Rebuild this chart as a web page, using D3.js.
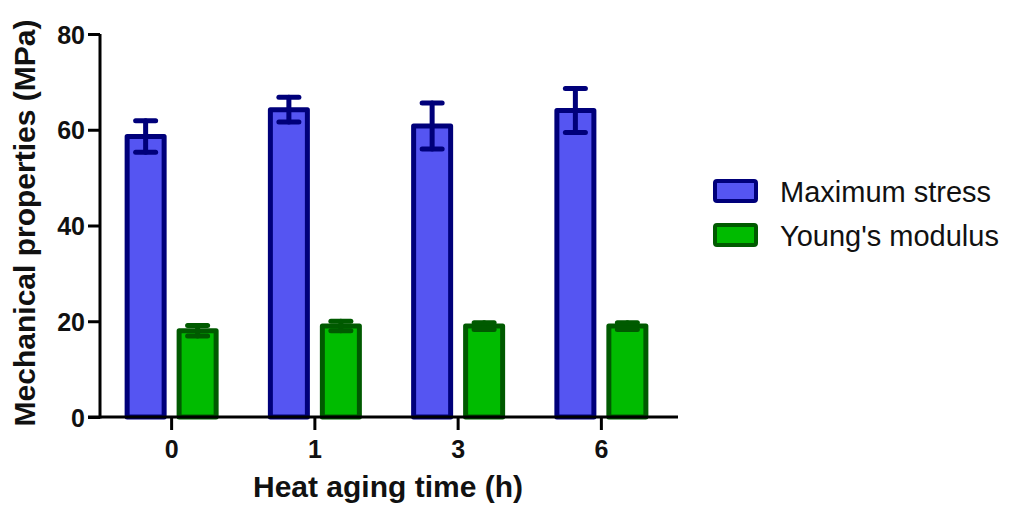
<!DOCTYPE html>
<html>
<head>
<meta charset="utf-8">
<script src="https://cdn.jsdelivr.net/npm/d3@7"></script>
<style>
  body { margin: 0; background: #fff; }
  svg { display: block; font-family: "Liberation Sans", Arial, sans-serif; }
</style>
</head>
<body>
<svg id="chart"></svg>
<script>
// data
const hours = ["0", "1", "3", "6"];
const seriesNames = ["Maximum stress", "Young's modulus"];
const stressMean = [58.6, 64.2, 60.8, 64.0];
const stressSD = [3.3, 2.6, 4.8, 4.6];
const modulusMean = [18.0, 19.0, 19.0, 19.0];
const modulusSD = [1.1, 1.0, 0.7, 0.7];
const yTicks = [0, 20, 40, 60, 80];

const fills = ["#5555f2", "#00bb00"];
const strokes = ["#00007a", "#005a00"];

const width = 1017, height = 506;
const margin = { top: 34, right: 344, bottom: 89, left: 100 };
const innerW = width - margin.left - margin.right;
const innerH = height - margin.top - margin.bottom;

const svg = d3.select("#chart").attr("width", width).attr("height", height);
const g = svg.append("g").attr("transform", `translate(${margin.left},${margin.top})`);

const x = d3.scaleBand().domain(hours).range([0, innerW]).padding(0);
const xSub = d3.scaleBand().domain(seriesNames).range([-47, 47]).paddingInner(0.192);
const y = d3.scaleLinear().domain([0, 80]).range([innerH, 0]);

const rows = [];
hours.forEach((h, i) => {
  rows.push({ h, s: 0, mean: stressMean[i], sd: stressSD[i] });
  rows.push({ h, s: 1, mean: modulusMean[i], sd: modulusSD[i] });
});

const bw = xSub.bandwidth();
const cx = d => x(d.h) + x.bandwidth() / 2 + xSub(seriesNames[d.s]) + bw / 2;

// bars
g.selectAll(".bar")
  .data(rows)
  .join("rect")
  .attr("class", "bar")
  .attr("x", d => cx(d) - bw / 2 + 2.5)
  .attr("y", d => y(d.mean))
  .attr("width", bw - 5)
  .attr("height", d => y(0) - y(d.mean))
  .attr("fill", d => fills[d.s])
  .attr("stroke", d => strokes[d.s])
  .attr("stroke-width", 5)
  .attr("stroke-linejoin", "round");

// error bars
const err = g.selectAll(".err").data(rows).join("g").attr("class", "err")
  .attr("stroke", d => strokes[d.s])
  .attr("stroke-width", 5)
  .attr("stroke-linecap", "round");
err.append("line")
  .attr("x1", cx).attr("x2", cx)
  .attr("y1", d => y(d.mean + d.sd)).attr("y2", d => y(d.mean - d.sd));
err.append("line")
  .attr("x1", d => cx(d) - 10).attr("x2", d => cx(d) + 10)
  .attr("y1", d => y(d.mean + d.sd)).attr("y2", d => y(d.mean + d.sd));
err.append("line")
  .attr("x1", d => cx(d) - 10).attr("x2", d => cx(d) + 10)
  .attr("y1", d => y(d.mean - d.sd)).attr("y2", d => y(d.mean - d.sd));

// axes
const yAxis = g.append("g")
  .call(d3.axisLeft(y).tickValues(yTicks).tickSize(12).tickPadding(3));
const xAxis = g.append("g").attr("transform", `translate(0,${innerH})`)
  .call(d3.axisBottom(x).tickSize(13).tickPadding(10));

[yAxis, xAxis].forEach(a => {
  a.select(".domain").attr("stroke", "#000").attr("stroke-width", 3);
  a.selectAll(".tick line").attr("stroke", "#000").attr("stroke-width", 3);
  a.selectAll(".tick text")
    .attr("fill", "#111")
    .style("font-size", "25px")
    .style("font-weight", "bold");
});
yAxis.select(".domain").attr("d", `M0,${innerH + 1.5}V0`);
yAxis.selectAll(".tick text").attr("dy", "0.36em");
xAxis.select(".domain").attr("d", `M-12,0H${innerW + 5}`);

// axis titles
svg.append("text")
  .attr("transform", "translate(35,223) rotate(-90)")
  .attr("text-anchor", "middle")
  .style("font-size", "30px")
  .style("font-weight", "bold")
  .attr("fill", "#111")
  .text("Mechanical properties (MPa)");

svg.append("text")
  .attr("x", 388)
  .attr("y", 497)
  .attr("text-anchor", "middle")
  .style("font-size", "30px")
  .style("font-weight", "bold")
  .attr("fill", "#111")
  .text("Heat aging time (h)");

// legend
const legend = svg.append("g").attr("transform", "translate(715,181)");
const li = legend.selectAll("g").data(seriesNames).join("g")
  .attr("transform", (d, i) => `translate(0,${i * 44})`);
li.append("rect")
  .attr("width", 41).attr("height", 20)
  .attr("rx", 2)
  .attr("fill", (d, i) => fills[i])
  .attr("stroke", (d, i) => strokes[i])
  .attr("stroke-width", 4);
li.append("text")
  .attr("x", 65).attr("y", 21)
  .style("font-size", "29px")
  .attr("fill", "#111")
  .text(d => d);
</script>
</body>
</html>
